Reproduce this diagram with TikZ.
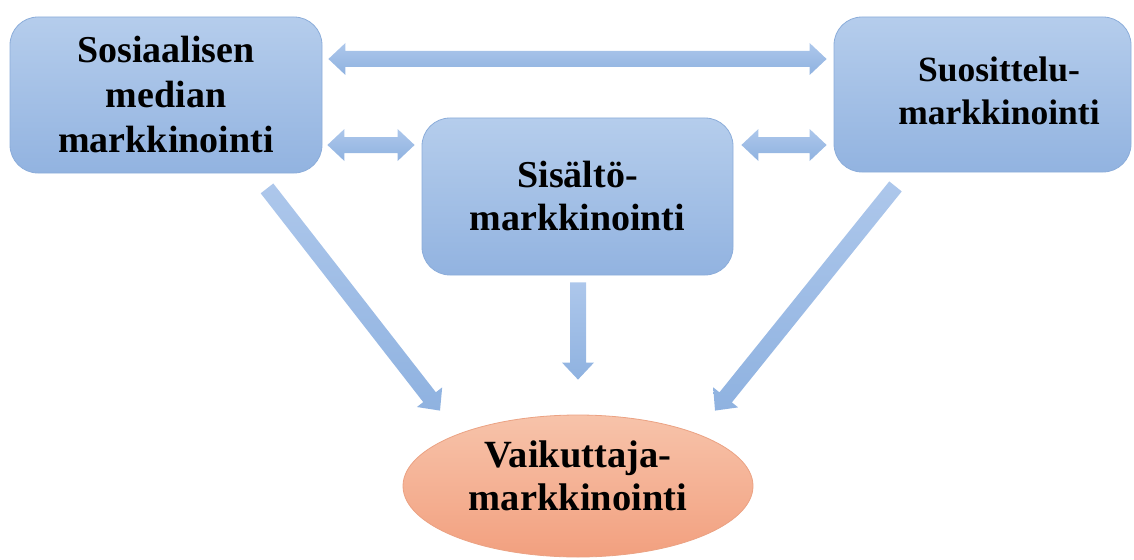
\documentclass[tikz,border=0pt]{standalone}
\usepackage{fontspec}
\setmainfont{Liberation Serif}
\usetikzlibrary{calc,shapes.geometric}

\definecolor{boxtop}{HTML}{B5CDEC}
\definecolor{boxbot}{HTML}{92B3E0}
\definecolor{boxline}{HTML}{8CADDA}
\definecolor{arrtop}{HTML}{ADC7EB}
\definecolor{arrbot}{HTML}{8FB2E0}
\definecolor{elltop}{HTML}{F7C3AA}
\definecolor{ellbot}{HTML}{F2A07F}
\definecolor{ellline}{HTML}{EBA283}

% block arrow dimensions
\newcommand\shaftw{8pt}
\newcommand\headw{16pt}
\newcommand\headlen{17pt}

% single block arrow from #1 to #2 (tip at #2)
\newcommand\blockarrow[2]{%
  \coordinate (#2-base) at ($(#2)!\headlen!(#1)$);
  \path[fatarrow]
    ($(#1)!\shaftw!90:(#2)$) -- ($(#2-base)!\shaftw!90:(#2)$)
    -- ($(#2-base)!\headw!90:(#2)$) -- (#2)
    -- ($(#2-base)!\headw!-90:(#2)$) -- ($(#2-base)!\shaftw!-90:(#2)$)
    -- ($(#1)!\shaftw!-90:(#2)$) -- cycle;
}
% double-headed block arrow between #1 and #2
\newcommand\blockboth[2]{%
  \coordinate (#1-base) at ($(#1)!\headlen!(#2)$);
  \coordinate (#2-base) at ($(#2)!\headlen!(#1)$);
  \path[fatarrow]
    (#1) -- ($(#1-base)!\headw!90:(#2)$) -- ($(#1-base)!\shaftw!90:(#2)$)
    -- ($(#2-base)!\shaftw!90:(#2)$) -- ($(#2-base)!\headw!90:(#2)$)
    -- (#2)
    -- ($(#2-base)!\headw!-90:(#2)$) -- ($(#2-base)!\shaftw!-90:(#2)$)
    -- ($(#1-base)!\shaftw!-90:(#2)$) -- ($(#1-base)!\headw!-90:(#2)$)
    -- cycle;
}

\tikzset{
  mbox/.style={draw=boxline, line width=0.8pt, rounded corners=28pt,
    top color=boxtop, bottom color=boxbot, align=center,
    font=\bfseries\fontsize{38}{45}\selectfont},
  goal/.style={ellipse, draw=ellline, line width=0.8pt,
    top color=elltop, bottom color=ellbot, align=center, inner sep=2pt,
    font=\bfseries\fontsize{38.5}{43}\selectfont},
  fatarrow/.style={top color=arrtop, bottom color=arrbot, draw=none},
}

\begin{document}
\begin{tikzpicture}[x=1pt,y=-1pt]
\useasboundingbox (0,0) rectangle (1134,559);

% the four channels
\node[mbox, minimum width=312pt, minimum height=156pt] (sm) at (166,95)
  {Sosiaalisen\\median\\markkinointi};
\node[mbox, minimum width=311pt, minimum height=157pt,
  font=\bfseries\fontsize{38}{43}\selectfont] (st) at (577.5,196.5)
  {Sisältö-\\markkinointi};
\node[mbox, minimum width=297pt, minimum height=155pt,
  font=\bfseries\fontsize{35.5}{43}\selectfont] (su) at (982.5,94.5)
  {\begin{tabular}{@{\hspace{33pt}}c@{}}Suosittelu-\\markkinointi\end{tabular}};
% the extra depth on the last line lifts the text a little inside the ellipse
\node[goal, minimum width=350pt, minimum height=142pt] (vm) at (578,486)
  {Vaikuttaja-\\markkinointi\rule[-20pt]{0pt}{1pt}};

% arrow end points
\coordinate (a1) at ($(sm.east)+(6,-36)$);
\coordinate (b1) at ($(su.west)+(-7,-35.5)$);
\coordinate (a2) at ($(sm.east)+(5,50)$);
\coordinate (b2) at ($(st.west)+(-7,-51.5)$);
\coordinate (a3) at ($(st.east)+(8,-51.5)$);
\coordinate (b3) at ($(su.west)+(-7,50.5)$);
\coordinate (c1) at ($(sm.south)+(101,15)$);
\coordinate (d1) at ($(vm.north)+(-138,-4)$);
\coordinate (c2) at ($(st.south)+(0.5,7)$);
\coordinate (d2) at ($(vm.north)+(0,-35)$);
\coordinate (c3) at ($(su.south)+(-87,14)$);
\coordinate (d3) at ($(vm.north)+(137,-4)$);

% links between the channels
\blockboth{a1}{b1}
\blockboth{a2}{b2}
\blockboth{a3}{b3}

% links to influencer marketing
\blockarrow{c1}{d1}
\blockarrow{c2}{d2}
\blockarrow{c3}{d3}
\end{tikzpicture}
\end{document}
